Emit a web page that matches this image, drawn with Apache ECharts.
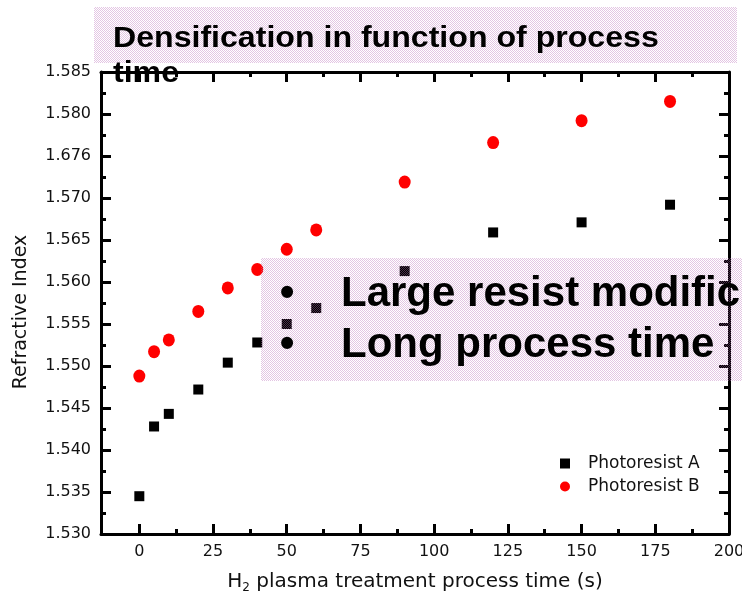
<!DOCTYPE html>
<html><head><meta charset="utf-8">
<script src="https://cdn.jsdelivr.net/npm/echarts@6/dist/echarts.min.js"></script>
<style>html,body{margin:0;padding:0;background:#fff}#c{width:742px;height:602px}</style>
</head><body><div id="c"></div>
<script>
const processTime = [0, 5, 10, 20, 30, 40, 50, 60, 90, 120, 150, 180];
const photoresistA = [1.5345, 1.5428, 1.5443, 1.5472, 1.5504, 1.5528, 1.5550, 1.5569, 1.5613, 1.5659, 1.5671, 1.5692];
const photoresistB = [1.5488, 1.5517, 1.5531, 1.5565, 1.5593, 1.5615, 1.5639, 1.5662, 1.5719, 1.5766, 1.5792, 1.5815];
const seriesNames = ['Photoresist A', 'Photoresist B'];
const xTickValues = [0, 25, 50, 75, 100, 125, 150, 175, 200];
const xMinorTickValues = [12.5, 37.5, 62.5, 87.5, 112.5, 137.5, 162.5, 187.5];
const yTickValues = [1.530, 1.535, 1.540, 1.545, 1.550, 1.555, 1.560, 1.565, 1.570, 1.575, 1.580, 1.585];
const yTickLabels = ['1.530', '1.535', '1.540', '1.545', '1.550', '1.555', '1.560', '1.565', '1.570', '1.676', '1.580', '1.585'];
const yMinorTickValues = [1.5325, 1.5375, 1.5425, 1.5475, 1.5525, 1.5575, 1.5625, 1.5675, 1.5725, 1.5775, 1.5825];
const titleLines = ['Densification in function of process', 'time'];
const noteLines = ['Large resist modific', 'Long process time'];
const yAxisTitle = 'Refractive Index';

const chart = echarts.init(document.getElementById('c'), null, {renderer: 'canvas'});

const pc = document.createElement('canvas');
pc.width = 2; pc.height = 2;
const pctx = pc.getContext('2d');
pctx.fillStyle = 'rgba(185,110,185,0.4)';
pctx.fillRect(0, 0, 1, 1);
pctx.fillRect(1, 1, 1, 1);
const patternFill = {image: pc, repeat: 'repeat'};

const FONT = '"DejaVu Sans", sans-serif';
const BOLD = '"Liberation Sans", Arial, sans-serif';
const xMin = -13, xMax = 200, yMin = 1.530, yMax = 1.585;
const lineStyle = {color: '#000', width: 3};
function xAx(pos, major, withLabel) {
  return {
    type: 'value', position: pos, min: xMin, max: xMax,
    axisLine: {show: major, onZero: false, lineStyle: lineStyle},
    axisTick: {show: true, inside: true, length: major ? 10 : 5, lineStyle: lineStyle,
      customValues: major ? xTickValues : xMinorTickValues},
    axisLabel: withLabel ? {show: true, customValues: xTickValues, fontFamily: FONT, fontSize: 16, color: '#111', margin: 10, hideOverlap: false} : {show: false},
    splitLine: {show: false}
  };
}
function yAx(pos, major, withLabel) {
  return {
    type: 'value', position: pos, min: yMin, max: yMax,
    axisLine: {show: major, onZero: false, lineStyle: lineStyle},
    axisTick: {show: true, inside: true, length: major ? 10 : 5, lineStyle: lineStyle,
      customValues: major ? yTickValues : yMinorTickValues},
    axisLabel: withLabel ? {show: true, customValues: yTickValues, fontFamily: FONT, fontSize: 16, color: '#111', margin: 10,
      formatter: v => yTickLabels[Math.round((v - yMin) / 0.005)]} : {show: false},
    splitLine: {show: false}
  };
}
const xAxes = [xAx('bottom', true, true), xAx('bottom', false, false), xAx('top', true, false), xAx('top', false, false)];
xAxes[0].name = '{a|H}{s|2}{a| plasma treatment process time (s)}';
xAxes[0].nameLocation = 'middle';
xAxes[0].nameGap = 35;
xAxes[0].nameTextStyle = {fontFamily: FONT, fontSize: 20, color: '#111',
  rich: {a: {fontFamily: FONT, fontSize: 20, color: '#111'}, s: {fontFamily: FONT, fontSize: 12, color: '#111', padding: [13, 0, 0, 0]}}};
const yAxes = [yAx('left', true, true), yAx('left', false, false), yAx('right', true, false), yAx('right', false, false)];
yAxes[0].name = yAxisTitle;
yAxes[0].nameLocation = 'middle';
yAxes[0].nameRotate = 90;
yAxes[0].nameGap = 70;
yAxes[0].nameTextStyle = {fontFamily: FONT, fontSize: 19, color: '#111', padding: [0, 18, 0, 0]};

const option = {
  animation: false,
  backgroundColor: '#fff',
  grid: {left: 101, right: 13, top: 72, bottom: 68, containLabel: false, outerBoundsMode: 'none'},
  xAxis: xAxes,
  yAxis: yAxes,
  legend: {
    orient: 'vertical', left: 555, top: 450, itemWidth: 10, itemHeight: 10, itemGap: 6,
    data: seriesNames,
    textStyle: {fontFamily: FONT, fontSize: 17, color: '#111', lineHeight: 17, padding: [0, 0, 0, 13]}
  },
  series: [
    {name: seriesNames[0], type: 'scatter', xAxisIndex: 0, yAxisIndex: 0, symbol: 'rect', symbolSize: 10,
      itemStyle: {color: '#000', opacity: 1}, data: processTime.map((t, i) => [t, photoresistA[i]]), z: 3},
    {name: seriesNames[1], type: 'scatter', xAxisIndex: 0, yAxisIndex: 0, symbol: 'circle', symbolSize: [12, 13],
      itemStyle: {color: '#ff0000', opacity: 1}, data: processTime.map((t, i) => [t, photoresistB[i]]), z: 3}
  ],
  graphic: [
    {type: 'rect', z: 50, shape: {x: 94, y: 7, width: 643, height: 56}, style: {fill: patternFill}},
    {type: 'text', z: 60, x: 113, y: 39, scaleX: 1.07, style: {text: titleLines[0], font: 'bold 30px ' + BOLD, fill: '#000', verticalAlign: 'middle'}},
    {type: 'text', z: 60, x: 113, y: 74, scaleX: 1.07, style: {text: titleLines[1], font: 'bold 30px ' + BOLD, fill: '#000', verticalAlign: 'middle'}},
    {type: 'rect', z: 50, shape: {x: 261, y: 258, width: 481, height: 123}, style: {fill: patternFill}},
    {type: 'text', z: 60, x: 287, y: 294, style: {text: '•', font: 'bold 42px ' + BOLD, fill: '#000', align: 'center', verticalAlign: 'middle'}},
    {type: 'text', z: 60, x: 287, y: 345, style: {text: '•', font: 'bold 42px ' + BOLD, fill: '#000', align: 'center', verticalAlign: 'middle'}},
    {type: 'text', z: 60, x: 341, y: 294, style: {text: noteLines[0], font: 'bold 42px ' + BOLD, fill: '#000', verticalAlign: 'middle'}},
    {type: 'text', z: 60, x: 341, y: 345, style: {text: noteLines[1], font: 'bold 42px ' + BOLD, fill: '#000', verticalAlign: 'middle'}}
  ]
};
chart.setOption(option);
</script>
</body></html>
